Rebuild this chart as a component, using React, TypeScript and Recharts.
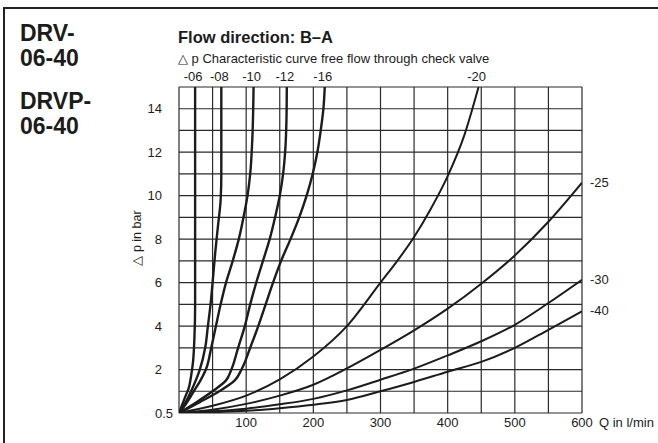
import React from 'react';
import { LineChart, Line, XAxis, YAxis, CartesianGrid } from 'recharts';

// ---- data (x: Q in l/min, y: grid position; 0 is labelled "0.5" bar) ----
const xTicks = [0, 50, 100, 150, 200, 250, 300, 350, 400, 450, 500, 550, 600];
const xLabelled = [100, 200, 300, 400, 500, 600];
const yTicks = [0, 1, 2, 3, 4, 5, 6, 7, 8, 9, 10, 11, 12, 13, 14, 15];
const yLabelled = [0, 2, 4, 6, 8, 10, 12, 14];
const yZeroLabel = '0.5';

const c06 = [[0, 0], [5, 0.4], [10, 0.8], [14, 1.1], [18, 1.7], [21, 2.4], [23, 3.5], [24, 5], [24, 10], [24, 15]];
const c08 = [[0, 0], [10, 0.5], [18, 1], [25, 1.5], [31, 2], [39, 3], [43, 4], [47, 5], [50, 6], [54, 7.4], [58, 8.6], [62, 9.8], [63, 11], [63, 15]];
const c10 = [[0, 0], [10, 0.4], [22, 1], [32, 1.5], [40, 2], [48, 3], [55, 4], [62, 5], [70, 6], [80, 7], [89, 8], [96, 9], [102, 10], [106, 11], [109, 12.5], [111, 15]];
const c12 = [[0, 0], [26, 0.5], [50, 1], [70, 1.5], [78, 2], [88, 3], [98, 4], [106, 5], [115, 6], [125, 7], [135, 8], [143, 9], [150, 10], [155, 11], [158, 12], [160, 13.5], [160.5, 15]];
const c16 = [[0, 0], [31, 0.5], [60, 1], [83, 1.5], [93, 2], [106, 3], [118, 4], [129, 5], [140, 6], [152, 7], [166, 8], [179, 9], [190, 10], [199, 11], [206, 12], [211, 13], [215, 14], [217, 15]];
const c20 = [[0, 0], [50, 0.33], [100, 0.8], [150, 1.55], [200, 2.6], [250, 4], [300, 6], [325, 7], [350, 8.1], [375, 9.4], [400, 10.9], [425, 12.8], [446, 15]];
const c25 = [[0, 0], [50, 0.15], [100, 0.42], [150, 0.8], [200, 1.3], [250, 2.05], [300, 2.9], [350, 3.8], [400, 4.8], [450, 5.95], [500, 7.25], [550, 8.8], [600, 10.6]];
const c30 = [[0, 0], [50, 0.08], [100, 0.2], [150, 0.4], [200, 0.65], [250, 1.04], [300, 1.53], [350, 2.04], [400, 2.65], [450, 3.3], [500, 4.06], [550, 5.06], [600, 6.13]];
const c40 = [[0, 0], [50, 0.04], [100, 0.1], [150, 0.22], [200, 0.38], [250, 0.6], [300, 1.0], [350, 1.43], [400, 1.9], [450, 2.35], [500, 3.0], [550, 3.83], [600, 4.68]];

const topNames = ['-06', '-08', '-10', '-12', '-16', '-20'];
const rightNames = ['-25', '-30', '-40'];

const steep = [c06, c08, c10, c12, c16];
const flat = [c20, c25, c30, c40];

// ---- layout ----
const W = 658;
const H = 443;
const M = { top: 87, right: 76, left: 139, bottom: 0 };
const Y_W = 40;
const X_H = 30;
const PL = M.left + Y_W;
const PT = M.top;
const PW = W - M.right - PL;
const PH = H - M.bottom - X_H - PT;
const px = (x: number) => PL + (x / 600) * PW;
const py = (y: number) => PT + PH - (y / 15) * PH;

const toPts = (a: number[][]) => a.map(([x, y]) => ({ x, y }));

const FONT = 'Liberation Sans, Arial, Helvetica, sans-serif';
const INK = '#1c1c1c';

const YTick = (props: any) => {
  const v = props.payload.value;
  if (v === 0) {
    return (
      <text x={173} y={props.y} dy={4.5} textAnchor="end" fontSize={13} fill={INK} fontFamily={FONT}>
        {yZeroLabel}
      </text>
    );
  }
  if (!yLabelled.includes(v)) return null;
  return (
    <text x={162} y={props.y} dy={4.5} textAnchor="end" fontSize={13} fill={INK} fontFamily={FONT}>
      {v}
    </text>
  );
};

const XTick = (props: any) => {
  const v = props.payload.value;
  if (!xLabelled.includes(v)) return null;
  return (
    <text x={props.x} y={427} textAnchor="middle" fontSize={13} fill={INK} fontFamily={FONT}>
      {v}
    </text>
  );
};

const abs = (s: React.CSSProperties): React.CSSProperties => ({
  position: 'absolute',
  fontFamily: FONT,
  color: INK,
  whiteSpace: 'nowrap',
  lineHeight: 1,
  ...s,
});

export default function App() {
  return (
    <div style={{ position: 'absolute', left: 0, top: 0, width: W, height: H, background: '#fff', overflow: 'hidden' }}>
      <div style={{ position: 'absolute', left: 3, top: 7, width: W, height: H, borderLeft: '2px solid #222', borderTop: '2px solid #222' }} />
      <div style={{ position: 'absolute', left: 0, top: 0 }}>
        <LineChart width={W} height={H} margin={M}>
          <CartesianGrid stroke="#2a2a2a" strokeWidth={1.2} vertical horizontal />
          <XAxis
            type="number"
            dataKey="x"
            domain={[0, 600]}
            ticks={xTicks}
            allowDataOverflow
            axisLine={false}
            tickLine={false}
            height={X_H}
            tick={<XTick />}
            interval={0}
          />
          <YAxis
            type="number"
            dataKey="y"
            domain={[0, 15]}
            ticks={yTicks}
            allowDataOverflow
            axisLine={false}
            tickLine={false}
            width={Y_W}
            tick={<YTick />}
            interval={0}
          />
          {steep.map((c, i) => (
            <Line
              key={'s' + i}
              data={toPts(c)}
              dataKey="y"
              type="monotoneY"
              stroke={INK}
              strokeWidth={2.4}
              dot={false}
              isAnimationActive={false}
            />
          ))}
          {flat.map((c, i) => (
            <Line
              key={'f' + i}
              data={toPts(c)}
              dataKey="y"
              type="monotone"
              stroke={INK}
              strokeWidth={2}
              dot={false}
              isAnimationActive={false}
            />
          ))}
        </LineChart>
      </div>

      <div style={abs({ left: 20, top: 22, fontSize: 23, fontWeight: 700 })}>DRV-</div>
      <div style={abs({ left: 20, top: 47, fontSize: 23, fontWeight: 700 })}>06-40</div>
      <div style={abs({ left: 20, top: 90, fontSize: 23, fontWeight: 700 })}>DRVP-</div>
      <div style={abs({ left: 20, top: 115, fontSize: 23, fontWeight: 700 })}>06-40</div>

      <div style={abs({ left: 178, top: 29, fontSize: 16.5, fontWeight: 700 })}>Flow direction: B–A</div>
      <div style={abs({ left: 178, top: 52, fontSize: 13 })}>△ p Characteristic curve free flow through check valve</div>

      {[c06, c08, c10, c12, c16, c20].map((c, i) => (
        <div key={'t' + i} style={abs({ left: px(c[c.length - 1][0]) - 2, top: 70, fontSize: 13, transform: 'translateX(-50%)' })}>
          {topNames[i]}
        </div>
      ))}
      {[c25, c30, c40].map((c, i) => (
        <div key={'r' + i} style={abs({ left: 590, top: py(c[c.length - 1][1]) - 7, fontSize: 13 })}>
          {rightNames[i]}
        </div>
      ))}

      <div style={abs({ left: 599, top: 416, fontSize: 13 })}>Q in l/min</div>
      <div
        style={abs({
          left: 137,
          top: 238,
          fontSize: 12.5,
          transform: 'translate(-50%, -50%) rotate(-90deg)',
        })}
      >
        △ p in bar
      </div>
    </div>
  );
}
